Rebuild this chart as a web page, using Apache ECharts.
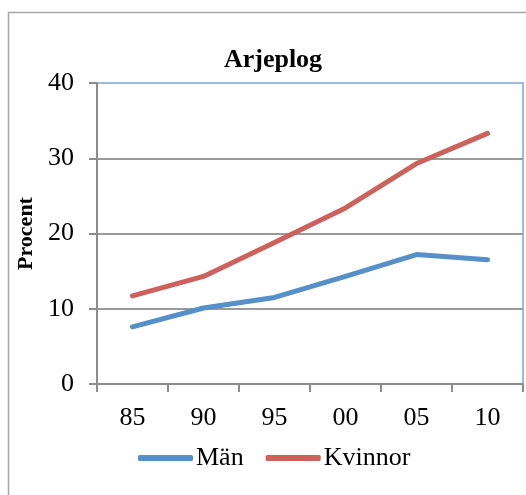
<!DOCTYPE html>
<html><head><meta charset="utf-8">
<script src="https://cdn.jsdelivr.net/npm/echarts@6/dist/echarts.min.js"></script>
<style>html,body{margin:0;padding:0;background:#fff}#c{width:526px;height:495px}</style>
</head><body><div id="c"></div>
<script>
const categories = ['85','90','95','00','05','10'];
const man = [7.6, 10.1, 11.5, 14.3, 17.2, 16.5];
const kvinnor = [11.7, 14.3, 18.8, 23.4, 29.3, 33.3];
const yTicks = [0, 10, 20, 30, 40];

const serif = '"Liberation Serif", "Times New Roman", serif';
const chart = echarts.init(document.getElementById('c'), null, {renderer: 'canvas'});
chart.setOption({
  animation: false,
  backgroundColor: '#fff',
  graphic: [{
    type: 'rect', shape: {x: 8.5, y: 12.5, width: 540, height: 500},
    style: {fill: 'none', stroke: '#a6a6a6', lineWidth: 1.5}, silent: true, z: -1
  }],
  title: {
    text: 'Arjeplog', left: 268, top: 42, textAlign: 'center',
    textStyle: {fontFamily: serif, fontWeight: 'bold', fontSize: 26, color: '#000'}
  },
  grid: {left: 97, right: 3, top: 83, bottom: 111, show: true, borderColor: '#7aa6d6', borderWidth: 1.5, backgroundColor: 'transparent'},
  legend: {
    top: 440, left: 133,
    itemWidth: 55, itemHeight: 6, itemGap: 22,
    icon: 'roundRect',
    textStyle: {fontFamily: serif, fontSize: 26, color: '#000', padding: [0, 0, 0, -2]},
    data: ['Män', 'Kvinnor']
  },
  xAxis: {
    type: 'category', data: categories, boundaryGap: true,
    axisLine: {lineStyle: {color: '#8c8c8c', width: 2}},
    axisTick: {show: true, length: 8, lineStyle: {color: '#8c8c8c', width: 2}},
    axisLabel: {fontFamily: serif, fontSize: 26, color: '#000', margin: 21}
  },
  yAxis: {
    type: 'value', min: yTicks[0], max: yTicks[yTicks.length - 1], interval: 10,
    name: 'Procent', nameLocation: 'middle', nameGap: 59, nameRotate: 90,
    nameTextStyle: {fontFamily: serif, fontWeight: 'bold', fontSize: 22, color: '#000'},
    axisLine: {show: true, lineStyle: {color: '#8c8c8c', width: 2}},
    axisTick: {show: true, length: 8, lineStyle: {color: '#8c8c8c', width: 2}},
    axisLabel: {fontFamily: serif, fontSize: 26, color: '#000', margin: 23},
    splitLine: {show: true, showMaxLine: false, showMinLine: false, lineStyle: {color: '#9a9a9a', width: 2}}
  },
  series: [
    {name: 'Män', type: 'line', data: man, showSymbol: false, symbol: 'none',
     lineStyle: {color: '#5690c8', width: 5, cap: 'round', join: 'round'}, itemStyle: {color: '#5690c8'}},
    {name: 'Kvinnor', type: 'line', data: kvinnor, showSymbol: false, symbol: 'none',
     lineStyle: {color: '#cc625b', width: 5, cap: 'round', join: 'round'}, itemStyle: {color: '#cc625b'}}
  ]
});
</script></body></html>
